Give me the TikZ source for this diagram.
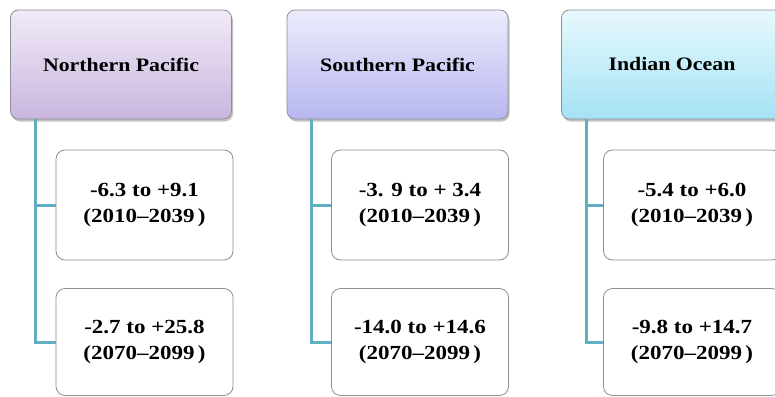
\documentclass[tikz,border=0pt]{standalone}
\usepackage{fontspec}
\newfontfamily\tnr[FakeStretch=1.15]{Liberation Serif}
\usetikzlibrary{shadows}
\definecolor{connC}{HTML}{5FAEC2}
\definecolor{nTop}{HTML}{F1EAF7}
\definecolor{nBot}{HTML}{C9B6DF}
\definecolor{sTop}{HTML}{ECECFC}
\definecolor{sBot}{HTML}{B7B7F0}
\definecolor{iTop}{HTML}{E8F9FD}
\definecolor{iBot}{HTML}{A4E2F4}
\definecolor{bordC}{HTML}{8E8E98}
\tikzset{
  header/.style={draw=bordC, line width=0.8pt, rounded corners=8pt,
    minimum width=221pt, minimum height=109pt, inner sep=0pt,
    font=\tnr\bfseries\fontsize{19}{24}\selectfont,
    drop shadow={shadow xshift=1.5pt, shadow yshift=-2.5pt, fill=black!40, opacity=0.6}},
  child/.style={draw=bordC, line width=0.8pt, rounded corners=9pt, fill=white,
    minimum width=177pt, minimum height=110pt, inner sep=0pt, align=center,
    font=\tnr\bfseries\fontsize{20}{26}\selectfont},
  conn/.style={draw=connC, line width=3pt}
}
\begin{document}
\begin{tikzpicture}[x=1pt,y=-1pt]
\useasboundingbox (0,0) rectangle (775,396);
\clip (0,0) rectangle (775,396);
% column 1
\node[header, top color=nTop, bottom color=nBot] (h1) at (121,64.5) {Northern Pacific};
\node[child] (c11) at (144.5,205) {-6.3 to +9.1\\(2010–2039\,)};
\node[child, minimum height=107pt] (c12) at (144.5,342) {-2.7 to +25.8\\(2070–2099\,)};
\coordinate (t1) at ([xshift=-86pt]h1.south);
\draw[conn] (t1) |- (c12.west);
\draw[conn] (t1) |- (c11.west);
% column 2
\node[header, top color=sTop, bottom color=sBot] (h2) at (397.5,64.5) {Southern Pacific};
\node[child] (c21) at (420,205) {-3. 9 to + 3.4\\(2010–2039\,)};
\node[child, minimum height=107pt] (c22) at (420,342) {-14.0 to +14.6\\(2070–2099\,)};
\coordinate (t2) at ([xshift=-86.5pt]h2.south);
\draw[conn] (t2) |- (c22.west);
\draw[conn] (t2) |- (c21.west);
% column 3
\node[header, top color=iTop, bottom color=iBot] (h3) at (672,64.5) {Indian Ocean};
\node[child] (c31) at (692,205) {-5.4 to +6.0\\(2010–2039\,)};
\node[child, minimum height=107pt] (c32) at (692,342) {-9.8 to +14.7\\(2070–2099\,)};
\coordinate (t3) at ([xshift=-86pt]h3.south);
\draw[conn] (t3) |- (c32.west);
\draw[conn] (t3) |- (c31.west);
\end{tikzpicture}
\end{document}
